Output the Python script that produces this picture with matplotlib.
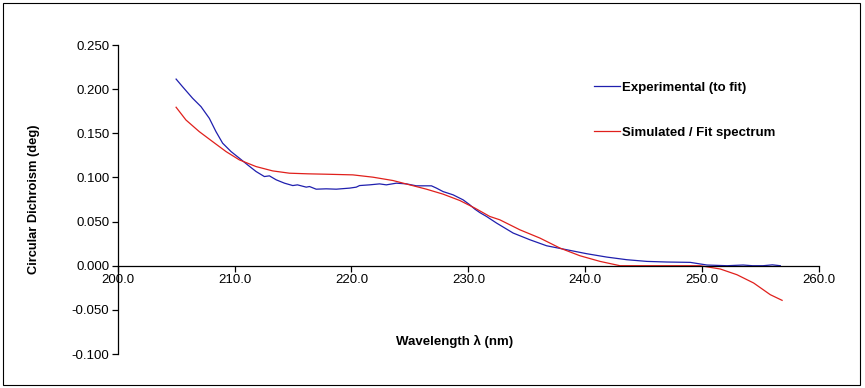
import numpy as np
import matplotlib.pyplot as plt
from matplotlib.patches import Rectangle

plt.rcParams['font.family'] = ['Liberation Sans', 'DejaVu Sans']

# ====== data ======
exp_nm = [205.0, 205.55, 206.41, 207.13, 207.84, 208.41, 208.98, 209.70, 210.41,
          211.12, 211.84, 212.55, 212.98, 213.56, 214.27, 214.98, 215.38, 216.13,
          216.41, 216.98, 217.84, 218.70, 219.84, 220.41, 220.69, 221.55, 222.40,
          222.98, 223.84, 224.70, 225.55, 226.84, 227.27, 227.83, 228.69, 229.55,
          230.12, 230.55, 231.0, 231.55, 232.41, 233.83, 235.26, 236.69, 238.41,
          240.12, 241.83, 243.55, 245.26, 246.97, 248.97, 250.40, 252.12, 253.5,
          254.3, 255.2, 256.0, 256.68]
exp_cd = [0.2114, 0.2028, 0.1897, 0.1802, 0.1670, 0.1519, 0.1388, 0.1293, 0.1218,
          0.1142, 0.1067, 0.1010, 0.1018, 0.0973, 0.0935, 0.0908, 0.0916, 0.0890,
          0.0897, 0.0867, 0.0871, 0.0867, 0.0879, 0.0890, 0.0908, 0.0916, 0.0927,
          0.0916, 0.0935, 0.0927, 0.0905, 0.0905, 0.0879, 0.0840, 0.0803, 0.0746,
          0.0690, 0.0641, 0.0600, 0.0558, 0.0483, 0.0370, 0.0294, 0.0226, 0.0181,
          0.0136, 0.0098, 0.0068, 0.0049, 0.0042, 0.0038, 0.0008, 0.0000, 0.0008,
          0.0000, 0.0000, 0.0010, 0.0000]

sim_nm = [205.0, 205.84, 206.98, 208.12, 209.27, 210.41, 211.84, 213.26, 214.70,
          216.26, 218.0, 220.12, 221.83, 223.55, 224.98, 226.41, 227.83, 229.26,
          230.55, 231.83, 232.69, 234.40, 236.12, 237.83, 239.54, 241.26, 242.97,
          249.82, 251.54, 252.97, 254.40, 255.82, 256.83]
sim_cd = [0.1795, 0.1651, 0.1519, 0.1406, 0.1293, 0.1199, 0.1123, 0.1074, 0.1048,
          0.1041, 0.1036, 0.1029, 0.1003, 0.0965, 0.0916, 0.0867, 0.0811, 0.0739,
          0.0653, 0.0558, 0.0520, 0.0407, 0.0313, 0.0200, 0.0113, 0.0049, 0.0000,
          0.0000, -0.0037, -0.0102, -0.0196, -0.0328, -0.0392]

x_ticks = [200.0, 210.0, 220.0, 230.0, 240.0, 250.0, 260.0]
y_ticks = [-0.100, -0.050, 0.000, 0.050, 0.100, 0.150, 0.200, 0.250]

fig = plt.figure(figsize=(8.65, 3.88), dpi=100)
ax = fig.add_axes([0.136, 0.0876, 0.811, 0.7964])

ax.plot(exp_nm, exp_cd, color='#1f1fae', lw=0.9, label='Experimental (to fit)')
ax.plot(sim_nm, sim_cd, color='#e0201c', lw=0.9, label='Simulated / Fit spectrum')

ax.set_xlim(200, 260)
ax.set_ylim(-0.1, 0.25)
ax.set_xticks(x_ticks)
ax.set_xticklabels([f'{v:.1f}' for v in x_ticks])
ax.set_yticks(y_ticks)
ax.set_yticklabels([f'{v:.3f}' for v in y_ticks])

ax.spines['top'].set_visible(False)
ax.spines['right'].set_visible(False)
ax.spines['bottom'].set_position(('data', 0))
ax.spines['left'].set_linewidth(0.9)
ax.spines['bottom'].set_linewidth(0.9)
ax.tick_params(axis='both', direction='out', length=4, width=0.9,
               labelsize=9.5, colors='black', pad=2)

ax.set_xlabel('Wavelength λ (nm)', fontsize=9.5, fontweight='bold')
ax.xaxis.set_label_coords(0.48, 0.06)
ax.set_ylabel('Circular Dichroism (deg)', fontsize=9.3, fontweight='bold')
ax.yaxis.set_label_coords(-0.11, 0.5)

ax.legend(loc='upper left', bbox_to_anchor=(0.662, 0.92), frameon=False,
          handlelength=2.0, handletextpad=0.15, labelspacing=2.5,
          prop={'weight': 'bold', 'size': 9.5})

fig.patches.append(Rectangle((0.004, 0.008), 0.99, 0.984, transform=fig.transFigure,
                             fill=False, edgecolor='black', lw=0.8))

fig.savefig('out.png', dpi=100)
